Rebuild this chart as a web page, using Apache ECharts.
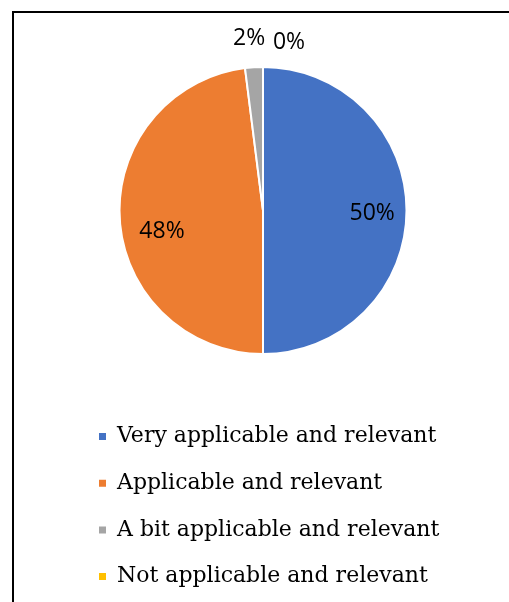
<!DOCTYPE html>
<html>
<head>
<meta charset="utf-8">
<script src="https://cdn.jsdelivr.net/npm/echarts@6/dist/echarts.min.js"></script>
<style>
  html, body { margin: 0; padding: 0; background: #fff; }
  #chart { width: 509px; height: 602px; }
</style>
</head>
<body>
<div id="chart"></div>
<script>
// Survey responses: share of each rating
const categories = [
  'Very applicable and relevant',
  'Applicable and relevant',
  'A bit applicable and relevant',
  'Not applicable and relevant'
];
const shares = [50, 48, 2, 0];
const colors = ['#4472C4', '#ED7D31', '#A5A5A5', '#FFC000'];
// Slices whose label sits inside the wedge
const insideLabel = [true, true, false, false];

const chart = echarts.init(document.getElementById('chart'));

const CX = 263, CY = 210.5, R = 143.5;
const labelFont = { fontFamily: 'Open Sans', fontSize: 23, color: '#000' };
// small nudges (rich-text padding) so neighbouring labels do not collide
const labelNudge = [[5, 0, 0, 0], [28, 0, 0, 16], [3, 6, 0, 0], [11, 0, 0, 52]];

// transparent ring whose mid-radius carries the labels of one group of slices
function labelRing(inner) {
  return categories.map((name, i) => ({
    name,
    value: shares[i],
    itemStyle: { color: 'rgba(0,0,0,0)' },
    label: {
      show: insideLabel[i] === inner,
      rich: { v: { ...labelFont, padding: labelNudge[i] } }
    }
  }));
}

const pieData = categories.map((name, i) => ({
  name,
  value: shares[i],
  itemStyle: { color: colors[i] }
}));

const ringBase = {
  type: 'pie',
  center: [CX, CY],
  startAngle: 90,
  clockwise: true,
  silent: true,
  legendHoverLink: false,
  avoidLabelOverlap: false,
  label: { position: 'inside', formatter: '{v|{d}%}', ...labelFont },
  labelLine: { show: false }
};

chart.setOption({
  animation: false,
  color: colors,
  graphic: [{
    type: 'rect',
    shape: { x: 13, y: 12, width: 700, height: 800 },
    style: { fill: 'none', stroke: '#000', lineWidth: 2 },
    silent: true
  }],
  legend: {
    orient: 'vertical',
    left: 92,
    top: 418.5,
    itemWidth: 9,
    itemHeight: 9,
    itemGap: 20.7,
    icon: 'rect',
    data: categories,
    textStyle: { fontFamily: 'DejaVu Serif', fontSize: 22, color: '#000', lineHeight: 26, padding: [0, 0, 0, 5] }
  },
  series: [{
    type: 'pie',
    center: [CX, CY],
    radius: [0, R],
    startAngle: 90,
    clockwise: true,
    itemStyle: { borderColor: '#fff', borderWidth: 2 },
    label: { show: false },
    labelLine: { show: false },
    emphasis: { disabled: true },
    data: pieData
  }, {
    ...ringBase,
    radius: [R * 0.48, R],
    data: labelRing(true)
  }, {
    ...ringBase,
    radius: [R * 1.0, R * 1.38],
    data: labelRing(false)
  }]
});
</script>
</body>
</html>
